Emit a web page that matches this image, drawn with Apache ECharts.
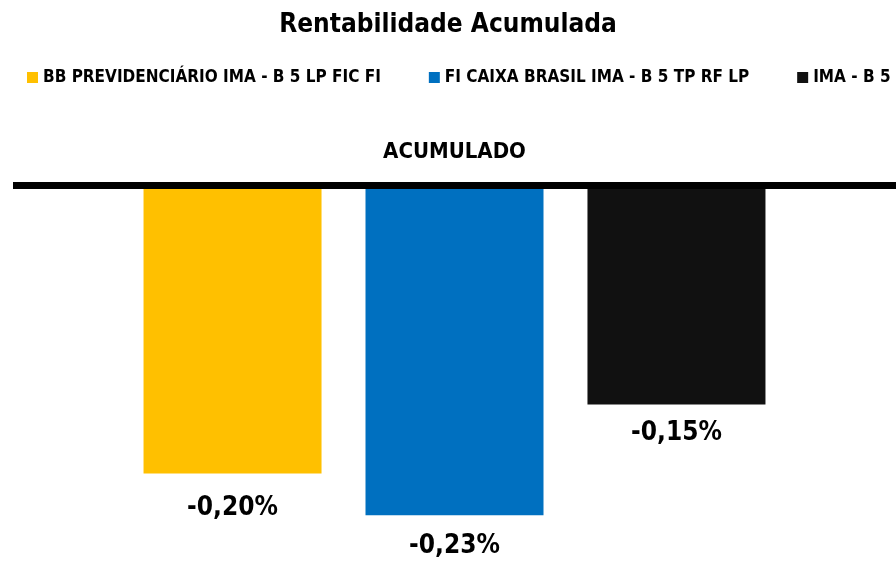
<!DOCTYPE html>
<html>
<head>
<meta charset="utf-8">
<script src="https://cdn.jsdelivr.net/npm/echarts@6/dist/echarts.min.js"></script>
<style>
  html, body { margin: 0; padding: 0; background: #fff; }
  #chart { width: 896px; height: 562px; }
</style>
</head>
<body>
<div id="chart"></div>
<script>
const categories = ['ACUMULADO'];
const seriesNames = [
  'BB PREVIDENCIÁRIO IMA - B 5 LP FIC FI',
  'FI CAIXA BRASIL IMA - B 5 TP RF LP',
  'IMA - B 5'
];
const seriesValues = [[-0.200], [-0.229], [-0.152]];
const seriesColors = ['#FFC000', '#0070C0', '#111111'];
const labelDistances = [22, 18, 16];

const font = "'Liberation Sans Narrow', 'DejaVu Sans Condensed', sans-serif";

const chart = echarts.init(document.getElementById('chart'));

chart.setOption({
  animation: false,
  textStyle: { fontFamily: font },
  title: {
    text: 'Rentabilidade Acumulada',
    left: 'center',
    top: 12,
    padding: 0,
    textStyle: { fontSize: 26, fontWeight: 'bold', color: '#000', fontFamily: font }
  },
  legend: {
    left: 27,
    top: 69,
    padding: 0,
    icon: 'rect',
    itemWidth: 11,
    itemHeight: 11,
    itemGap: 48,
    textStyle: { fontSize: 17, fontWeight: 'bold', color: '#000', fontFamily: font }
  },
  grid: { left: 13, width: 890, top: 185.5, bottom: 16.5 },
  xAxis: {
    type: 'category',
    position: 'top',
    data: categories,
    z: 5,
    axisLine: { lineStyle: { color: '#000', width: 7, cap: 'butt' } },
    axisTick: { show: false },
    axisLabel: {
      margin: 22,
      fontSize: 22,
      fontWeight: 'bold',
      color: '#000',
      fontFamily: font
    }
  },
  yAxis: {
    type: 'value',
    min: -0.25,
    max: 0,
    show: false,
    splitLine: { show: false }
  },
  series: seriesNames.map((name, i) => ({
    name: name,
    type: 'bar',
    data: seriesValues[i],
    barWidth: 178,
    barGap: '24.7%',
    itemStyle: { color: seriesColors[i] },
    label: {
      show: true,
      position: 'bottom',
      distance: labelDistances[i],
      fontSize: 26,
      fontWeight: 'bold',
      color: '#000',
      fontFamily: font,
      formatter: p => p.value.toFixed(2).replace('.', ',') + '%'
    }
  }))
});
</script>
</body>
</html>
